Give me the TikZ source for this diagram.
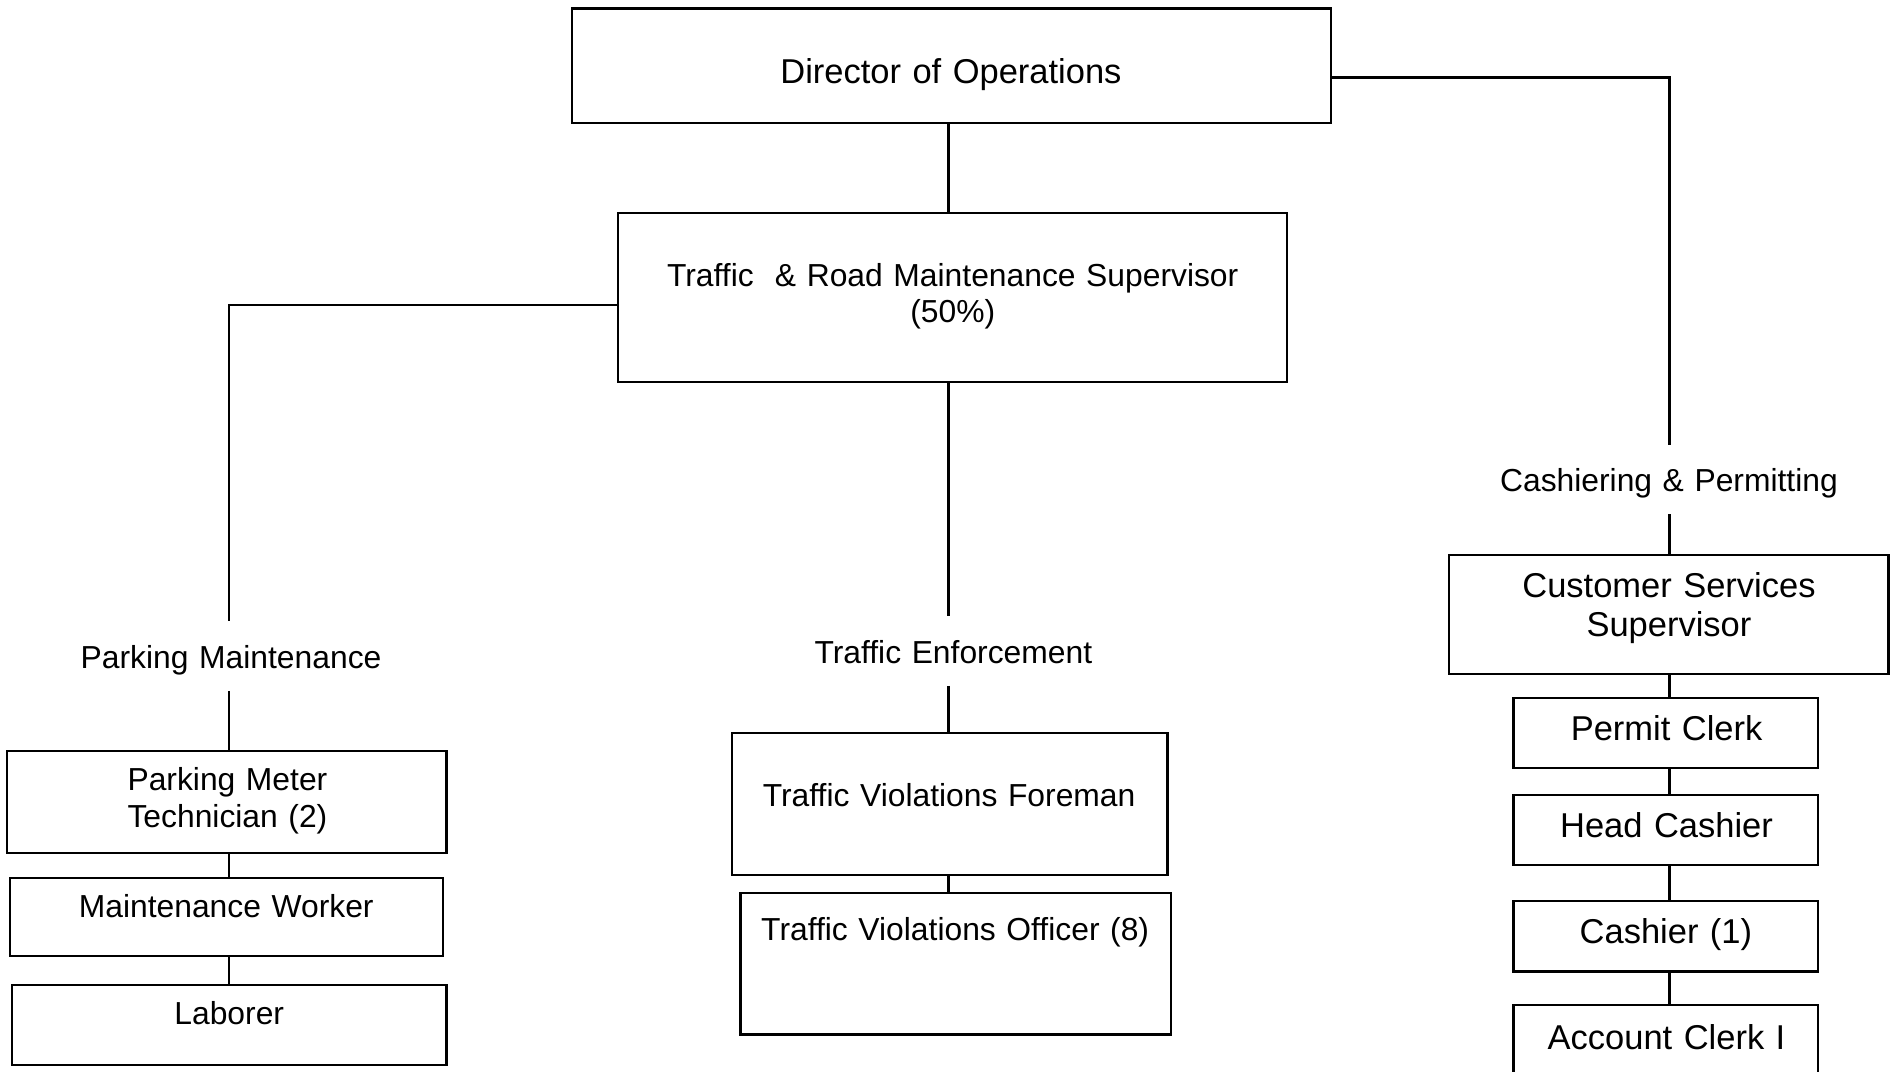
\documentclass[tikz,border=0pt]{standalone}
\usepackage{fontspec}
\setmainfont{Liberation Sans}
\begin{document}
\begin{tikzpicture}[x=1pt, y=-1pt,
  box/.style={draw, line width=1.8pt, inner sep=0pt, outer sep=0pt},
  link/.style={line width=1.8pt},
  txt/.style={inner sep=0pt, anchor=base, align=center, text width=600pt},
  small/.style={txt, font=\fontsize{26.3}{30.5}\selectfont},
  large/.style={txt, font=\fontsize{28.5}{32}\selectfont}]
% box from corner (x1,y1) to corner (x2,y2)
\newcommand\orgbox[5]{%
  \node[box, minimum width={(#4-#2)*1pt}, minimum height={(#5-#3)*1pt}]
    (#1) at ({(#2+#4)/2},{(#3+#5)/2}) {};}
\clip (0,0) rectangle (1568,886);

% boxes
\orgbox{dir}{473}{7}{1100}{102}
\orgbox{trms}{511}{176}{1064}{316}
\orgbox{pmt}{6}{621}{369}{705}
\orgbox{mw}{8}{726}{366}{790}
\orgbox{lab}{10}{814}{369}{880}
\orgbox{tvf}{605}{606}{965}{723}
\orgbox{tvo}{612}{738}{968}{855}
\orgbox{css}{1198}{459}{1561}{557}
\orgbox{pc}{1251}{577}{1503}{635}
\orgbox{hc}{1251}{657}{1503}{715}
\orgbox{cas}{1251}{745}{1503}{803}
\orgbox{acc}{1251}{831}{1503}{900}

% texts
\node[large] (tdir) at (786,69) {Director of Operations};
\node[small] (ttrms) at (787.5,236.4) {Traffic~ \& Road Maintenance Supervisor\\(50\%)};
\node[small] (tpm) at (191,552.4) {Parking Maintenance};
\node[small] (tte) at (788,548.4) {Traffic Enforcement};
\node[small] (tcp) at (1379.5,406.4) {Cashiering \& Permitting};
\node[large] (tcss) at (1379.5,494.2) {Customer Services\\Supervisor};
\node[small] (tpmt) at (188,653.4) {Parking Meter\\Technician (2)};
\node[small] (tmw) at (187,758.4) {Maintenance Worker};
\node[small] (tlab) at (189.5,846.4) {Laborer};
\node[small] (ttvf) at (784.5,666.4) {Traffic Violations Foreman};
\node[small] (ttvo) at (789.5,777.4) {Traffic Violations Officer (8)};
\node[large] (tpc) at (1377.5,612.2) {Permit Clerk};
\node[large] (thc) at (1377.5,692.2) {Head Cashier};
\node[large] (tcas) at (1377,780.2) {Cashier (1)};
\node[large] (tacc) at (1377.5,867.2) {Account Clerk I};

% connector guide coordinates
\coordinate (xm) at (784,0);
\coordinate (xl) at (189,0);
\coordinate (xr) at (1380,0);
\coordinate (ry) at (0,64);
\coordinate (ly) at (0,252);
\coordinate (cpTop) at (1380,368);
\coordinate (cpBot) at (1380,425);
\coordinate (pmTop) at (189,513);
\coordinate (pmBot) at (189,571);
\coordinate (teTop) at (784,509);
\coordinate (teBot) at (784,567);

% connectors
\draw[link] (xm |- dir.south) -- (xm |- trms.north);
\draw[link] (dir.east |- ry) -| (cpTop);
\draw[link] (cpBot) -- (cpBot |- css.north);
\draw[link] (trms.west |- ly) -| (pmTop);
\draw[link] (pmBot) -- (pmBot |- pmt.north);
\draw[link] (xm |- trms.south) -- (teTop);
\draw[link] (teBot) -- (teBot |- tvf.north);
\draw[link] (xl |- pmt.south) -- (xl |- mw.north);
\draw[link] (xl |- mw.south) -- (xl |- lab.north);
\draw[link] (xm |- tvf.south) -- (xm |- tvo.north);
\draw[link] (xr |- css.south) -- (xr |- pc.north);
\draw[link] (xr |- pc.south) -- (xr |- hc.north);
\draw[link] (xr |- hc.south) -- (xr |- cas.north);
\draw[link] (xr |- cas.south) -- (xr |- acc.north);
\end{tikzpicture}
\end{document}
